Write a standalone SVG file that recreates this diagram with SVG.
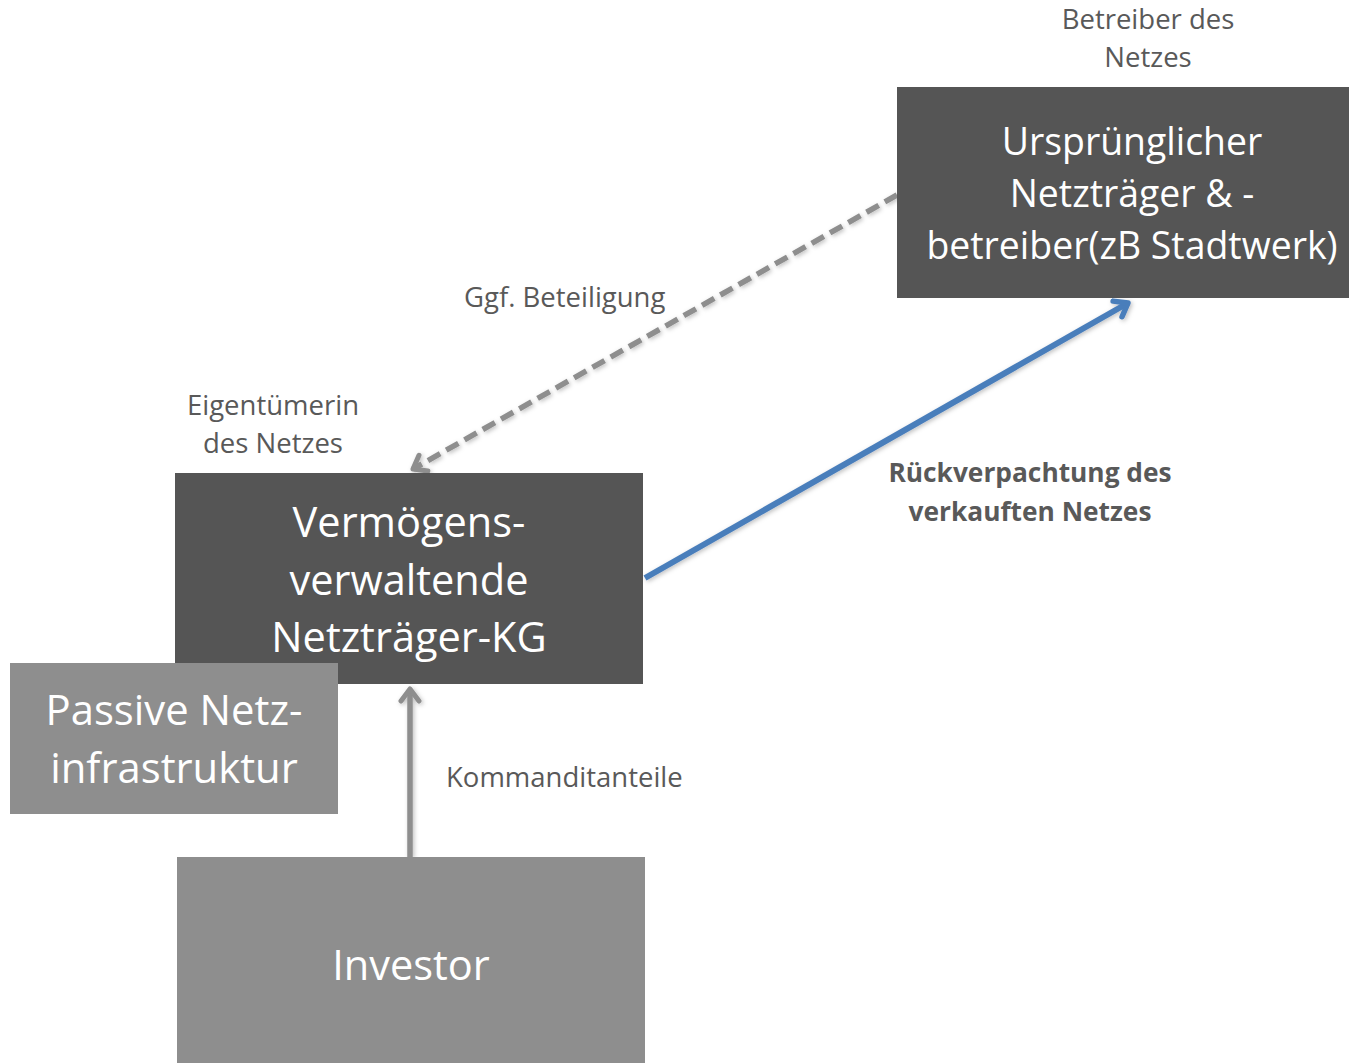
<svg xmlns="http://www.w3.org/2000/svg" width="1349" height="1063" viewBox="0 0 1349 1063">
<style>
.dark{fill:#555555}
.mid{fill:#8e8e8e}
.bt{fill:#ffffff;font-family:"Open Sans","Liberation Sans",sans-serif;text-anchor:middle}
.lb{fill:#595959;font-family:"Open Sans","Liberation Sans",sans-serif;font-size:27.5px}
.c{text-anchor:middle}
.bold{font-weight:bold;font-size:26.3px}
</style>
<defs>
<filter id="sh" x="-20%" y="-20%" width="140%" height="140%">
<feDropShadow dx="1.5" dy="1.5" stdDeviation="2" flood-color="#000" flood-opacity="0.25"/>
</filter>
<marker id="ag" viewBox="0 0 24 24" refX="20" refY="12" markerWidth="24" markerHeight="24" markerUnits="userSpaceOnUse" orient="auto">
<path d="M8,3 L20,12 L8,21" fill="none" stroke="#8e8e8e" stroke-width="5" stroke-linecap="round" stroke-linejoin="round"/>
</marker>
<marker id="ab" viewBox="0 0 24 24" refX="20" refY="12" markerWidth="24" markerHeight="24" markerUnits="userSpaceOnUse" orient="auto">
<path d="M8,3 L20,12 L8,21" fill="none" stroke="#4a7ebb" stroke-width="5.5" stroke-linecap="round" stroke-linejoin="round"/>
</marker>
</defs>
<rect width="1349" height="1063" fill="#ffffff"/>
<g id="connectors" filter="url(#sh)">
<path d="M897,195 L413,469" fill="none" stroke="#8e8e8e" stroke-width="5.5" stroke-dasharray="14,7" marker-end="url(#ag)"/>
<path d="M645,578 L1128,303" fill="none" stroke="#4a7ebb" stroke-width="6" marker-end="url(#ab)"/>
<path d="M410,857 L410,689" fill="none" stroke="#8e8e8e" stroke-width="5.5" marker-end="url(#ag)"/>
</g>
<g id="betreiber">
<rect class="dark" x="897" y="87" width="452" height="211"/>
<text class="bt" font-size="37.4"><tspan x="1132" y="155">Ursprünglicher</tspan><tspan x="1132" y="207">Netzträger &amp; -</tspan><tspan x="1132" y="259">betreiber(zB Stadtwerk)</tspan></text>
</g>
<g id="label-betreiber">
<text class="lb c"><tspan x="1148" y="29">Betreiber des</tspan><tspan x="1148" y="67">Netzes</tspan></text>
</g>
<g id="kg">
<rect class="dark" x="175" y="473" width="468" height="211"/>
<text class="bt" font-size="41.5"><tspan x="409" y="537">Vermögens-</tspan><tspan x="409" y="595">verwaltende</tspan><tspan x="409" y="652">Netzträger-KG</tspan></text>
</g>
<g id="label-eigentuemerin">
<text class="lb c"><tspan x="273" y="415">Eigentümerin</tspan><tspan x="273" y="453">des Netzes</tspan></text>
</g>
<g id="passive">
<rect class="mid" x="10" y="663" width="328" height="151"/>
<text class="bt" font-size="41.8"><tspan x="174" y="725">Passive Netz-</tspan><tspan x="174" y="783">infrastruktur</tspan></text>
</g>
<g id="investor">
<rect class="mid" x="177" y="857" width="468" height="206"/>
<text class="bt" font-size="41.5" x="411" y="980">Investor</text>
</g>
<g id="labels">
<text class="lb" x="464" y="307">Ggf. Beteiligung</text>
<text class="lb" x="446" y="787">Kommanditanteile</text>
<text class="lb c bold"><tspan x="1030" y="482">Rückverpachtung des</tspan><tspan x="1030" y="521">verkauften Netzes</tspan></text>
</g>
</svg>
